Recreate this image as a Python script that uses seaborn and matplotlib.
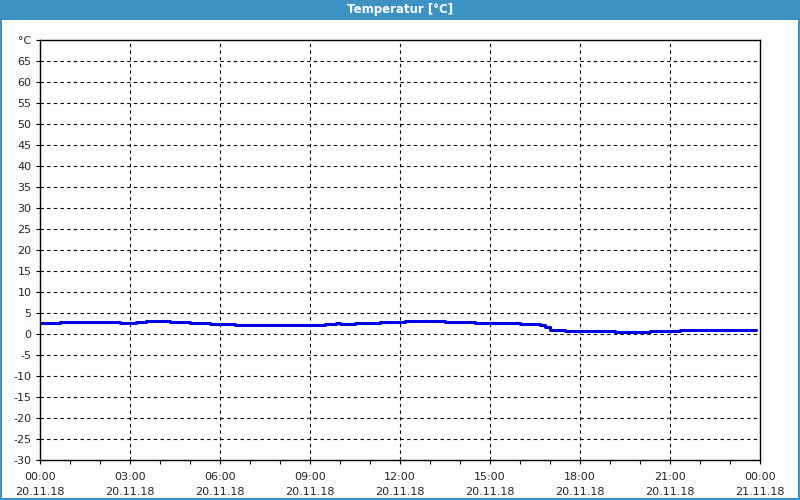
import matplotlib
matplotlib.use("Agg")
import matplotlib.pyplot as plt
import seaborn as sns
import pandas as pd
from matplotlib.patches import Rectangle

# Data (hours since 20.11.18 00:00, temperature in °C)
hours = [0.0, 0.67, 2.67, 3.2, 3.53, 4.33, 5.0, 5.67, 6.5, 9.5, 9.87, 10.0, 10.5,
         11.33, 12.17, 13.5, 14.5, 16.0, 16.5, 16.67, 16.83, 17.0, 17.5, 19.17,
         20.33, 21.33, 23.87]
temps = [2.7, 2.9, 2.6, 2.9, 3.2, 2.9, 2.6, 2.4, 2.2, 2.5, 2.7, 2.5, 2.7,
         2.9, 3.2, 2.9, 2.7, 2.5, 2.3, 2.1, 1.6, 1.0, 0.8, 0.5,
         0.8, 1.0, 1.0]
xtick_times = ["00:00", "03:00", "06:00", "09:00", "12:00", "15:00", "18:00", "21:00", "00:00"]
xtick_dates = ["20.11.18"] * 8 + ["21.11.18"]
yticks = list(range(-30, 70, 5))
title = "Temperatur [°C]"

df = pd.DataFrame({"h": hours, "t": temps})

sns.set_style("white")
plt.rcParams['font.family'] = ['DejaVu Sans']

fig = plt.figure(figsize=(8, 5), dpi=100)
fig.patch.set_facecolor("#fbfdfb")

# window frame: title bar + border
fig.add_artist(Rectangle((0, 1 - 20/500), 1, 20/500, transform=fig.transFigure,
                         facecolor="#3c91c5", edgecolor="none"))
fig.add_artist(Rectangle((0, 0), 2/800, 1, transform=fig.transFigure, facecolor="#3c91c5", edgecolor="none"))
fig.add_artist(Rectangle((1 - 2/800, 0), 2/800, 1, transform=fig.transFigure, facecolor="#3c91c5", edgecolor="none"))
fig.add_artist(Rectangle((0, 0), 1, 2/500, transform=fig.transFigure, facecolor="#3c91c5", edgecolor="none"))
fig.text(0.5, 1 - 10/500, title, color="white", fontsize=8.5, fontweight="bold",
         ha="center", va="center")

ax = fig.add_axes([40/800, 40/500, 720/800, 420/500])
ax.set_facecolor("white")
sns.lineplot(data=df, x="h", y="t", ax=ax, color="#0000e6", linewidth=2.2,
             drawstyle="steps-post")

ax.set_xlim(0, 24)
ax.set_ylim(-30, 70)
ax.set_xlabel("")
ax.set_ylabel("")

ax.set_xticks(range(0, 25, 3))
ax.set_xticklabels([f"{t}\n{d}" for t, d in zip(xtick_times, xtick_dates)],
                   fontsize=8, linespacing=1.6)
ax.set_xticks(range(0, 25, 1), minor=True)
ax.set_yticks(yticks + [70])
ax.set_yticklabels([str(v) for v in yticks] + ["°C"], fontsize=8)

ax.tick_params(axis="both", which="both", direction="out", length=3, width=0.8,
               color="black", pad=3, bottom=True, left=True)
ax.tick_params(axis="x", which="major", pad=6)

for spine in ax.spines.values():
    spine.set_visible(True)
    spine.set_color("black")
    spine.set_linewidth(1)

for v in yticks[1:]:
    ax.axhline(v, color="black", linestyle=(0, (3, 3)), linewidth=0.8, zorder=0)
for h in range(3, 24, 3):
    ax.axvline(h, color="black", linestyle=(0, (3, 3)), linewidth=0.8, zorder=0)

fig.savefig("out.png", dpi=100, facecolor=fig.get_facecolor())
